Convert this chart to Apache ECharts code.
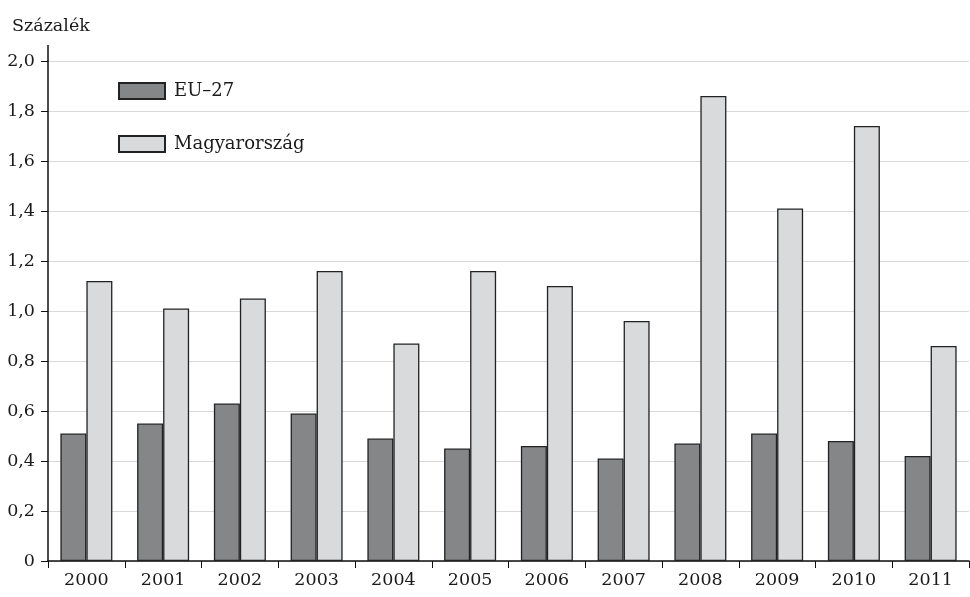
<!DOCTYPE html>
<html>
<head>
<meta charset="utf-8">
<script src="https://cdn.jsdelivr.net/npm/echarts@6/dist/echarts.min.js"></script>
<style>
  html, body { margin: 0; padding: 0; background: #fff; }
  #chart { width: 970px; height: 597px; }
</style>
</head>
<body>
<div id="chart"></div>
<script>
  // adatok
  const years = ['2000', '2001', '2002', '2003', '2004', '2005', '2006', '2007', '2008', '2009', '2010', '2011']
  const eu27 = [0.51, 0.55, 0.63, 0.59, 0.49, 0.45, 0.46, 0.41, 0.47, 0.51, 0.48, 0.42]
  const hungary = [1.12, 1.01, 1.05, 1.16, 0.87, 1.16, 1.10, 0.96, 1.86, 1.41, 1.74, 0.86]
  const seriesNames = ['EU–27', 'Magyarország']

  const font = 'DejaVu Serif'
  const chart = echarts.init(document.getElementById('chart'))

  const option = {
    animation: false,
    textStyle: { fontFamily: font },
    title: {
      text: 'Százalék',
      left: 7,
      top: 12,
      textStyle: { fontFamily: font, fontSize: 17.5, fontWeight: 'normal', color: '#1a1a1a' }
    },
    legend: {
      data: seriesNames,
      orient: 'vertical',
      icon: 'rect',
      left: 113,
      top: 77,
      itemWidth: 46,
      itemHeight: 16,
      itemGap: 35,
      textStyle: { fontFamily: font, fontSize: 18, color: '#1a1a1a', padding: [0, 0, 0, 4] }
    },
    grid: { left: 48, right: 1, top: 61, bottom: 36 },
    xAxis: {
      type: 'category',
      data: years,
      axisLine: { lineStyle: { color: '#111', width: 1.5 } },
      axisTick: { show: true, length: 7, lineStyle: { color: '#111' } },
      axisLabel: { fontFamily: font, fontSize: 17.5, color: '#1a1a1a', margin: 10 }
    },
    yAxis: {
      type: 'value',
      min: 0,
      max: 2,
      interval: 0.2,
      axisLine: { show: true, lineStyle: { color: '#111', width: 1.5 } },
      axisTick: { show: true, length: 7, lineStyle: { color: '#111' } },
      splitLine: { lineStyle: { color: '#d9d9d9', width: 1.2 } },
      axisLabel: {
        fontFamily: font,
        fontSize: 17.5,
        color: '#1a1a1a',
        margin: 13,
        formatter: v => (v === 0 ? '0' : v.toFixed(1).replace('.', ','))
      }
    },
    series: [
      {
        name: seriesNames[0],
        type: 'bar',
        data: eu27,
        barWidth: 26,
        barGap: '0%',
        itemStyle: { color: '#858688', borderColor: '#222', borderWidth: 1.3 }
      },
      {
        name: seriesNames[1],
        type: 'bar',
        data: hungary,
        barWidth: 26,
        itemStyle: { color: '#d9dadc', borderColor: '#222', borderWidth: 1.3 }
      }
    ]
  }

  chart.setOption(option)

  // a függőleges tengely egy kicsit túlnyúlik a 2,0-n
  const topY = chart.convertToPixel({ yAxisIndex: 0 }, 2)
  chart.setOption({
    graphic: [{
      type: 'line',
      shape: { x1: 48, y1: topY, x2: 48, y2: topY - 16 },
      style: { stroke: '#111', lineWidth: 1.5 }
    }]
  })
</script>
</body>
</html>
